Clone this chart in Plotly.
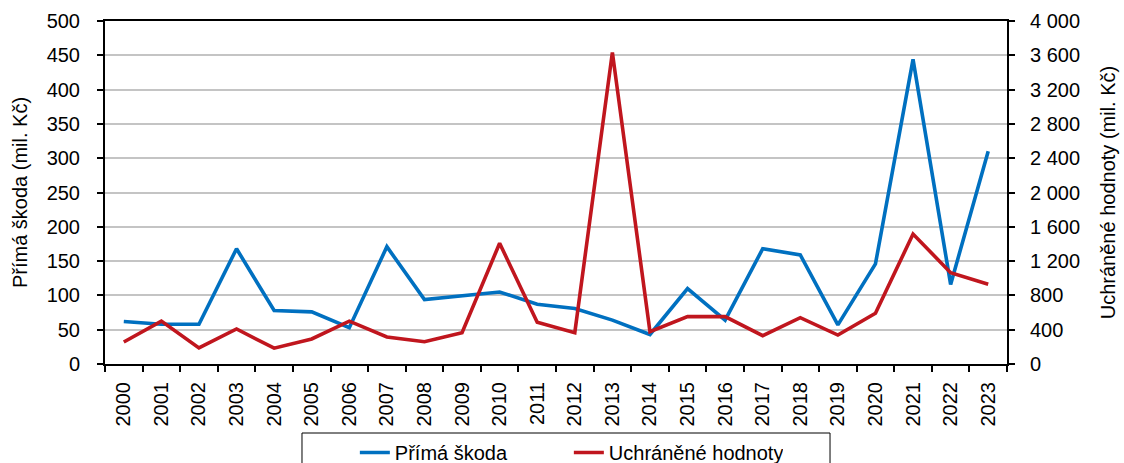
import plotly.graph_objects as go

years = [str(y) for y in range(2000, 2024)]
prima_skoda = [62, 58, 58, 168, 78, 76, 53, 171, 94, 99, 105, 87, 81, 64, 43, 110, 64, 168, 159, 57, 146, 444, 116, 310]
uchranene = [256, 500, 187, 408, 185, 292, 500, 315, 260, 365, 1408, 486, 365, 3634, 376, 552, 552, 330, 540, 338, 591, 1516, 1065, 929]

FONT = "Liberation Sans, Arial, sans-serif"
FS = 20

fig = go.Figure()
fig.add_trace(go.Scatter(x=years, y=prima_skoda, name="Přímá škoda", mode="lines",
                         line=dict(color="#0070C0", width=3.6), yaxis="y"))
fig.add_trace(go.Scatter(x=years, y=uchranene, name="Uchráněné hodnoty", mode="lines",
                         line=dict(color="#C0161E", width=3.6), yaxis="y2"))

# legend frame (drawn as a shape so it can be wider than the entries)
fig.add_shape(type="rect", xref="paper", yref="paper",
              x0=0.2184, x1=0.8038, y0=-0.2012, y1=-0.33,
              line=dict(color="black", width=1), fillcolor="rgba(0,0,0,0)", layer="above")

fig.update_layout(
    width=1124, height=463,
    margin=dict(l=105, r=117, t=21, b=99, autoexpand=False),
    paper_bgcolor="white", plot_bgcolor="white",
    font=dict(family=FONT, size=FS, color="black"),
    separators=", ",
    showlegend=True,
    legend=dict(orientation="h", x=0.277, xanchor="left", y=-0.201, yanchor="top",
                borderwidth=0, bgcolor="rgba(0,0,0,0)", font=dict(size=FS),
                entrywidth=169, entrywidthmode="pixels", tracegroupgap=0),
    xaxis=dict(type="category", range=[-0.5, 23.5], tickangle=-90, ticks="outside",
               tickson="boundaries", ticklen=6, tickwidth=1.5, tickcolor="black",
               ticklabelstandoff=8, automargin=False,
               showline=True, linecolor="black", linewidth=2, mirror=True,
               showgrid=False, tickfont=dict(size=FS)),
    yaxis=dict(range=[0, 500], dtick=50, ticks="outside", ticklen=6, tickwidth=1.5, tickcolor="black",
               ticklabelstandoff=13, automargin=False,
               showline=True, linecolor="black", linewidth=2,
               gridcolor="#c4c4c4", gridwidth=1.5, zeroline=False,
               title=dict(text="Přímá škoda (mil. Kč)", font=dict(size=FS), standoff=14)),
    yaxis2=dict(range=[0, 4000], dtick=400, overlaying="y", side="right", tickformat=",d",
                ticks="outside", ticklen=6, tickwidth=1.5, tickcolor="black",
                ticklabelstandoff=11, automargin=False,
                showline=True, linecolor="black", linewidth=2, showgrid=False, zeroline=False,
                title=dict(text="Uchráněné hodnoty (mil. Kč)", font=dict(size=FS), standoff=22)),
)

fig.write_html("out.html", config={"displayModeBar": False},
               post_script="document.body.style.margin='0';document.body.style.overflow='hidden';")
